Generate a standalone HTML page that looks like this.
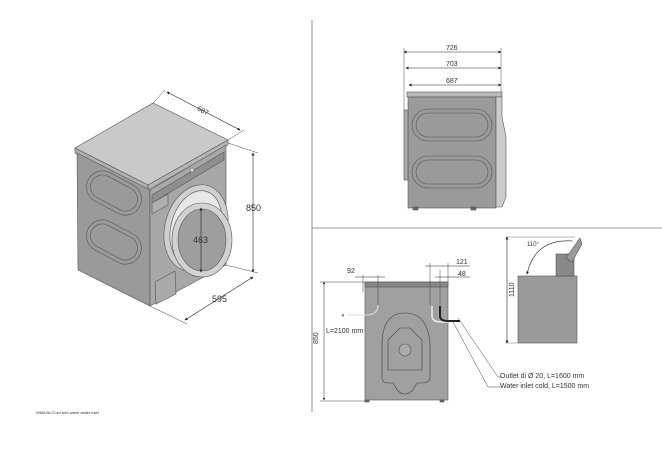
<!DOCTYPE html>
<html><head><meta charset="utf-8"><style>
html,body{margin:0;padding:0;background:#fff;width:662px;height:457px;overflow:hidden}
text{font-family:"Liberation Sans",sans-serif;fill:#333}
</style></head><body>
<svg width="662" height="457" viewBox="0 0 662 457" xmlns="http://www.w3.org/2000/svg">
<defs><marker id="a" viewBox="0 0 6 6" refX="5" refY="3" markerWidth="5" markerHeight="5" orient="auto-start-reverse"><path d="M0,0L6,3L0,6z" fill="#222"/></marker></defs>
<line x1="312" y1="20" x2="312" y2="412" stroke="#777" stroke-width="0.8"/>
<line x1="312" y1="228" x2="662" y2="228" stroke="#777" stroke-width="0.8"/>

<g stroke="#555" stroke-width="0.6">
<polygon points="75,148 153,103 228,140 148,185" fill="#c9c9c9"/>
<polygon points="75,148 148,185 148,190 75,153" fill="#b0b0b0"/>
<polygon points="148,185 228,140 228,145 148,190" fill="#b5b5b5"/>
<polygon points="77,153 150,190 150,306 78,270" fill="#9a9a9a"/>
<polygon points="150,190 226,145 226,265 150,306" fill="#a8a8a8"/>
<polygon points="152,195 224,152 224,160 152,203" fill="#8f8f8f"/>
<polygon points="152,203 168,194 168,205 152,214" fill="#b0b0b0"/>
<circle cx="192" cy="170" r="2" fill="#ddd"/>
<rect x="85" y="177" width="58" height="32" rx="16" fill="none" transform="rotate(28 114 193)"/>
<rect x="89" y="181" width="50" height="24" rx="12" fill="none" transform="rotate(28 114 193)"/>
<rect x="85" y="226" width="58" height="32" rx="16" fill="none" transform="rotate(28 114 242)"/>
<rect x="89" y="230" width="50" height="24" rx="12" fill="none" transform="rotate(28 114 242)"/>
<ellipse cx="196" cy="228" rx="31" ry="44" fill="#cfcfcf" transform="rotate(15 196 228)"/>
<ellipse cx="196" cy="228" rx="25" ry="38" fill="#e8e8e8" transform="rotate(15 196 228)"/>
<ellipse cx="202" cy="240" rx="30" ry="37" fill="#d2d2d2"/>
<ellipse cx="202" cy="240" rx="24" ry="31" fill="#9e9e9e"/>
<polygon points="155,282 175,271 176,294 156,304" fill="#aaa"/>
</g>
<line x1="201" y1="208" x2="201" y2="272" stroke="#222" stroke-width="0.6" marker-start="url(#a)" marker-end="url(#a)"/>
<text x="193" y="243" font-size="9">463</text>
<line x1="167" y1="92" x2="240" y2="130" stroke="#222" stroke-width="0.6" marker-start="url(#a)" marker-end="url(#a)"/>
<line x1="153" y1="103" x2="165" y2="90" stroke="#444" stroke-width="0.5"/>
<line x1="228" y1="140" x2="244" y2="130" stroke="#444" stroke-width="0.5"/>
<text x="197" y="113" font-size="7" transform="rotate(27 203 111)">687</text>
<line x1="253" y1="153" x2="253" y2="272" stroke="#222" stroke-width="0.6" marker-start="url(#a)" marker-end="url(#a)"/>
<line x1="228" y1="143" x2="258" y2="153" stroke="#444" stroke-width="0.5"/>
<line x1="226" y1="265" x2="258" y2="273" stroke="#444" stroke-width="0.5"/>
<text x="246" y="211" font-size="9">850</text>
<line x1="185" y1="320" x2="253" y2="277" stroke="#222" stroke-width="0.6" marker-start="url(#a)" marker-end="url(#a)"/>
<line x1="150" y1="306" x2="187" y2="324" stroke="#444" stroke-width="0.5"/>
<text x="212" y="302" font-size="9">595</text>
<text x="36" y="414" font-size="4">WM6/AL/Cold and warm water inlet</text>

<g stroke="#555" stroke-width="0.6">
<rect x="407" y="92" width="95" height="5" fill="#bbb"/>
<rect x="408" y="97" width="88" height="111" fill="#9a9a9a"/>
<path d="M496,97 h6 v20 l4,20 v60 l-4,10 h-6z" fill="#ccc"/>
<rect x="404" y="110" width="4" height="70" fill="#aaa"/>
<rect x="412" y="109" width="80" height="32" rx="16" fill="none"/>
<rect x="416" y="113" width="72" height="24" rx="12" fill="none"/>
<rect x="412" y="156" width="80" height="32" rx="16" fill="none"/>
<rect x="416" y="160" width="72" height="24" rx="12" fill="none"/>
<rect x="413" y="207" width="5" height="3" fill="#666"/>
<rect x="471" y="207" width="5" height="3" fill="#666"/>
</g>
<g stroke="#222" stroke-width="0.6">
<line x1="404" y1="52" x2="501" y2="52" marker-start="url(#a)" marker-end="url(#a)"/>
<line x1="406" y1="68" x2="501" y2="68" marker-start="url(#a)" marker-end="url(#a)"/>
<line x1="409" y1="85" x2="501" y2="85" marker-start="url(#a)" marker-end="url(#a)"/>
<line x1="404" y1="48" x2="404" y2="110" stroke-width="0.4"/>
<line x1="501" y1="48" x2="501" y2="92" stroke-width="0.4"/>
</g>
<text x="446" y="50" font-size="7">726</text>
<text x="446" y="66" font-size="7">703</text>
<text x="446" y="83" font-size="7">687</text>

<g stroke="#555" stroke-width="0.6">
<rect x="365" y="282" width="83" height="118" fill="#a0a0a0"/>
<rect x="365" y="282" width="83" height="5" fill="#888"/>
<path d="M382,345 q0,-32 23,-32 q23,0 25,32 v32 q0,6 -8,6 h-5 l-5,8 q-7,6 -14,0 l-5,-8 h-5 q-6,0 -6,-6z" fill="none" stroke="#444"/>
<path d="M388,340 l12,-12 h10 l12,12 v30 h-34z" fill="none" stroke="#444"/>
<circle cx="405" cy="350" r="6" fill="#aaa"/>
<path d="M378,305 q0,10 -12,10 h-18" fill="none" stroke="#ddd" stroke-width="1"/>
<path d="M432,306 v10 q0,6 10,6 h10" fill="none" stroke="#eee" stroke-width="1.5"/>
<path d="M440,306 v10 q0,5 8,5 h12" fill="none" stroke="#222" stroke-width="2"/>
<rect x="365" y="400" width="4" height="2" fill="#666"/>
<rect x="440" y="400" width="4" height="2" fill="#666"/>
</g>
<text x="340" y="318" font-size="7">⚬</text>
<g stroke="#444" stroke-width="0.5" fill="none">
<line x1="324" y1="282" x2="324" y2="400" stroke="#222" marker-start="url(#a)" marker-end="url(#a)"/>
<line x1="320" y1="282" x2="365" y2="282"/>
<line x1="320" y1="401" x2="365" y2="401"/>
<line x1="363" y1="275" x2="363" y2="292"/>
<line x1="378" y1="275" x2="378" y2="305"/>
<line x1="355" y1="277" x2="385" y2="277" stroke="#222"/>
<line x1="430" y1="263" x2="430" y2="305"/>
<line x1="448" y1="263" x2="448" y2="282"/>
<line x1="440" y1="270" x2="440" y2="305"/>
<line x1="425" y1="266" x2="470" y2="266" stroke="#222"/>
<line x1="435" y1="277" x2="470" y2="277" stroke="#222"/>
<polyline points="458,318 498,377 502,377"/>
<polyline points="452,320 488,387 502,387"/>
</g>
<text x="318" y="344" font-size="7" transform="rotate(-90 318 344)">850</text>
<text x="326" y="333" font-size="7">L=2100 mm</text>
<text x="347" y="273" font-size="7">92</text>
<text x="456" y="264" font-size="7">121</text>
<text x="458" y="276" font-size="7">48</text>
<text x="500" y="378" font-size="7">Outlet di Ø 20, L=1600 mm</text>
<text x="500" y="388" font-size="7">Water inlet cold, L=1500 mm</text>

<g stroke="#555" stroke-width="0.6">
<rect x="518" y="276" width="59" height="67" fill="#9a9a9a"/>
<rect x="556" y="254" width="18" height="22" fill="#888"/>
<polygon points="566,258 580,238 582,244 572,262" fill="#999"/>
<path d="M527,274 Q535,238 573,241" fill="none" stroke="#222" marker-start="url(#a)"/>
<line x1="507" y1="237" x2="507" y2="343" stroke="#222" marker-start="url(#a)" marker-end="url(#a)"/>
<line x1="505" y1="237" x2="575" y2="237" stroke-width="0.4"/>
<line x1="505" y1="343" x2="518" y2="343" stroke-width="0.4"/>
</g>
<text x="527" y="246" font-size="6">110°</text>
<text x="514" y="297" font-size="7" transform="rotate(-90 514 297)">1110</text>
</svg>
</body></html>
